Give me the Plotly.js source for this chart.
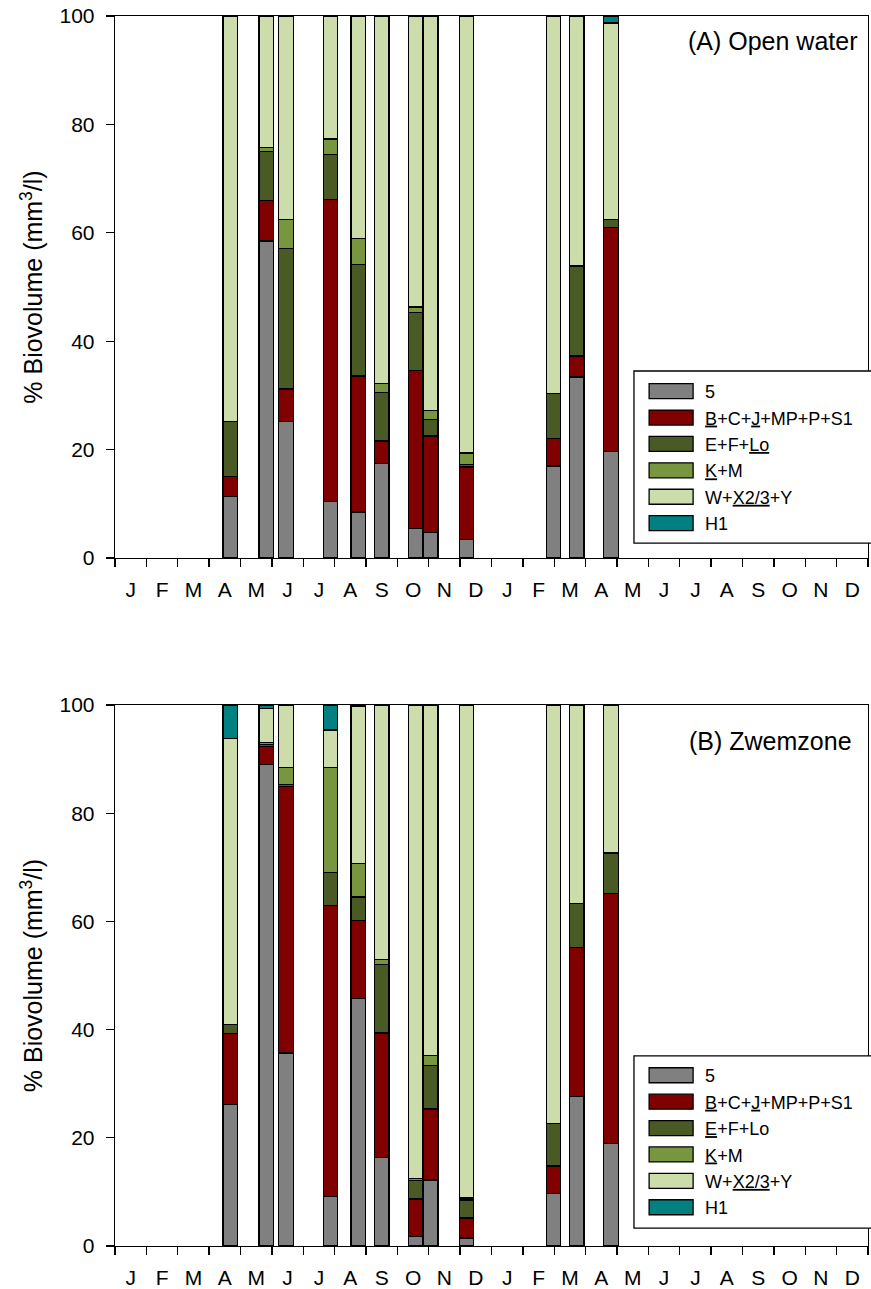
<!DOCTYPE html>
<html>
<head>
<meta charset="utf-8">
<script src="https://cdn.plot.ly/plotly-3.0.1.min.js"></script>
<style>html,body{margin:0;padding:0;background:#fff;}</style>
</head>
<body>
<div id="chart" style="width:871px;height:1289px;"></div>
<script>
// ---- data ----
const monthLetters = ['J','F','M','A','M','J','J','A','S','O','N','D','J','F','M','A','M','J','J','A','S','O','N','D'];
// sampling position, in months from start of first January
const sampleMonth = [3.67, 4.82, 5.45, 6.87, 7.75, 8.50, 9.59, 10.06, 11.20, 13.98, 14.72, 15.81];

const groupNamesA = ['5', '<u>B</u>+C+<u>J</u>+MP+P+S1', 'E+F+<u>Lo</u>', '<u>K</u>+M', 'W+<u>X2/3</u>+Y', 'H1'];
const groupNamesB = ['5', '<u>B</u>+C+<u>J</u>+MP+P+S1', '<u>E</u>+F+Lo', '<u>K</u>+M', 'W+<u>X2/3</u>+Y', 'H1'];
const groupColors = ['#808080', '#800000', '#4a5a24', '#789640', '#ccdcaa', '#008080'];

// (A) Open water, % biovolume
const a_5  = [11.3, 58.5, 25.2, 10.4,  8.5, 17.5,  5.4,  4.7,  3.4, 17.0, 33.4, 19.6];
const a_B  = [ 3.7,  7.5,  6.0, 55.8, 25.1,  4.1, 29.2, 17.8, 13.4,  5.0,  3.9, 41.4];
const a_E  = [10.2,  9.0, 25.9,  8.2, 20.6,  9.0, 10.7,  3.0,  0.4,  8.4, 16.6,  1.5];
const a_K  = [null,  0.7,  5.3,  2.9,  4.7,  1.6,  1.0,  1.7,  2.2, null, null, null];
const a_W  = [74.8, 24.3, 37.6, 22.7, 41.1, 67.8, 53.7, 72.8, 80.6, 69.6, 46.1, 36.2];
const a_H1 = [null, null, null, null, null, null, null, null, null, null, null,  1.3];

// (B) Zwemzone, % biovolume
const b_5  = [26.2, 89.0, 35.7,  9.2, 45.7, 16.3,  1.7, 12.2,  1.5,  9.7, 27.6, 18.9];
const b_B  = [13.1,  3.4, 49.3, 53.8, 14.5, 23.1,  7.0, 13.1,  3.7,  5.1, 27.6, 46.2];
const b_E  = [ 1.6,  0.3,  0.3,  6.1,  4.3, 12.7,  3.4,  8.1,  3.3,  7.8,  8.1,  7.4];
const b_K  = [null,  0.4,  3.2, 19.4,  6.2,  0.9,  0.4,  1.8,  0.4, null, null,  0.3];
const b_W  = [52.9,  6.3, 11.5,  6.9, 29.1, 47.0, 87.5, 64.8, 91.1, 77.4, 36.7, 27.2];
const b_H1 = [ 6.2,  0.6, null,  4.6,  0.2, null, null, null, null, null, null, null];

// ---- chart ----
const F = 'Liberation Sans, Arial, sans-serif';
const seriesA = [a_5, a_B, a_E, a_K, a_W, a_H1];
const seriesB = [b_5, b_B, b_E, b_K, b_W, b_H1];
const traces = [];
seriesA.forEach((vals, i) => traces.push({
  type: 'bar', x: sampleMonth, y: vals, name: groupNamesA[i],
  xaxis: 'x', yaxis: 'y', legend: 'legend', width: 0.46,
  marker: {color: groupColors[i], line: {color: '#000', width: 1.3}}, hoverinfo: 'skip'
}));
seriesB.forEach((vals, i) => traces.push({
  type: 'bar', x: sampleMonth, y: vals, name: groupNamesB[i],
  xaxis: 'x2', yaxis: 'y2', legend: 'legend2', width: 0.46,
  marker: {color: groupColors[i], line: {color: '#000', width: 1.3}}, hoverinfo: 'skip'
}));

const monthCenters = monthLetters.map((_, i) => i + 0.5);
const monthEdges = monthLetters.map((_, i) => i).concat([monthLetters.length]);

function xAx(anchor) {
  return {
    anchor: anchor, domain: [0, 1], range: [0, monthLetters.length],
    showline: true, linecolor: '#000', linewidth: 1.3, mirror: true,
    showgrid: false, zeroline: false,
    tickmode: 'array', tickvals: monthCenters, ticktext: monthLetters,
    ticks: 'outside', ticklen: 12, tickcolor: 'rgba(0,0,0,0)',
    tickfont: {family: F, size: 21, color: '#000'},
    minor: {tickmode: 'array', tickvals: monthEdges, ticks: 'outside', ticklen: 8, tickcolor: '#000', tickwidth: 1.3, showgrid: false}
  };
}
function yAx(anchor, dom) {
  return {
    anchor: anchor, domain: dom, range: [0, 100],
    showline: true, linecolor: '#000', linewidth: 1.3, mirror: true,
    showgrid: false, zeroline: false,
    tickmode: 'linear', tick0: 0, dtick: 20,
    ticks: 'outside', ticklen: 8, tickcolor: '#000', tickwidth: 1.3, ticklabelstandoff: 7,
    tickfont: {family: F, size: 21, color: '#000'},
    title: {text: '% Biovolume (mm<sup>3</sup>/l)', font: {family: F, size: 25, color: '#000'}, standoff: 9}
  };
}
const legendCommon = {
  bgcolor: 'rgba(0,0,0,0)', borderwidth: 0, traceorder: 'normal',
  font: {family: F, size: 18, color: '#000'}, itemwidth: 50, xanchor: 'left', yanchor: 'top',
  itemclick: false, itemdoubleclick: false
};

const layout = {
  width: 871, height: 1289,
  margin: {l: 115, r: 3, t: 16, b: 43},
  paper_bgcolor: '#fff', plot_bgcolor: '#fff',
  barmode: 'stack', showlegend: true,
  font: {family: F, color: '#000'},
  xaxis: xAx('y'), yaxis: yAx('x', [0.5593, 1]),
  xaxis2: xAx('y2'), yaxis2: yAx('x2', [0, 0.4398]),
  legend: Object.assign({x: 0.704, y: 0.7098}, legendCommon),
  legend2: Object.assign({x: 0.704, y: 0.1536}, legendCommon),
  shapes: [
    {type: 'rect', xref: 'paper', yref: 'paper', x0: 0.6892, x1: 1.02, y0: 0.5715, y1: 0.7114,
     fillcolor: '#fff', line: {color: '#000', width: 1.3}, layer: 'above'},
    {type: 'rect', xref: 'paper', yref: 'paper', x0: 0.6892, x1: 1.02, y0: 0.0146, y1: 0.1545,
     fillcolor: '#fff', line: {color: '#000', width: 1.3}, layer: 'above'}
  ],
  annotations: [
    {text: '(A) Open water', xref: 'paper', yref: 'paper', x: 0.990, y: 0.9797, xanchor: 'right', yanchor: 'middle',
     showarrow: false, font: {family: F, size: 25, color: '#000'}},
    {text: '(B) Zwemzone', xref: 'paper', yref: 'paper', x: 0.981, y: 0.4106, xanchor: 'right', yanchor: 'middle',
     showarrow: false, font: {family: F, size: 25, color: '#000'}}
  ]
};

function widenSwatches() {
  document.querySelectorAll('.legendpoints path').forEach(p => {
    p.setAttribute('d', 'M18,7.5H-26V-7.5H18Z');
  });
}
Plotly.newPlot('chart', traces, layout, {displayModeBar: false, staticPlot: true}).then(() => {
  widenSwatches();
});
</script>
</body>
</html>
